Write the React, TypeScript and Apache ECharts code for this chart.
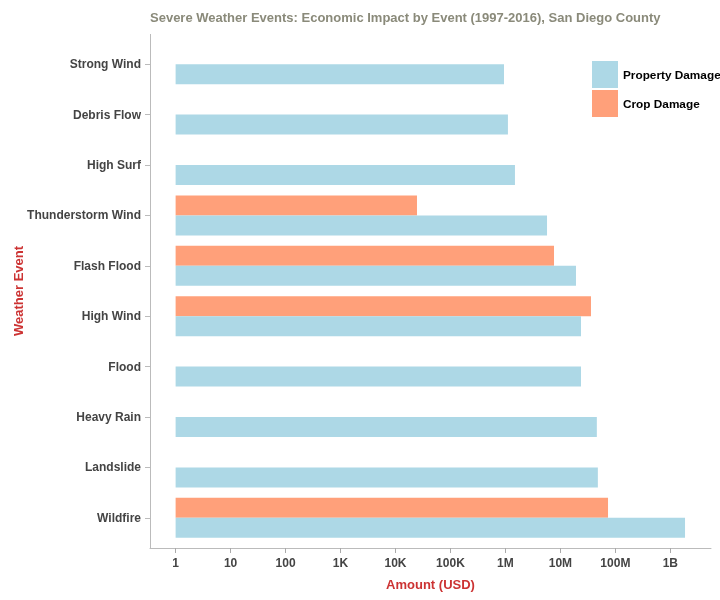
import React, { useEffect, useRef } from "react";
import * as echarts from "echarts";

const categories = [
  "Strong Wind",
  "Debris Flow",
  "High Surf",
  "Thunderstorm Wind",
  "Flash Flood",
  "High Wind",
  "Flood",
  "Heavy Rain",
  "Landslide",
  "Wildfire",
];
const propertyDamage = [942000, 1110000, 1490000, 5710000, 19200000, 23700000, 23700000, 46000000, 48000000, 1850000000];
const cropDamage = [null, null, null, 24600, 7650000, 36000000, null, null, null, 73500000];
const tickValues = [1, 10, 100, 1000, 10000, 100000, 1000000, 10000000, 100000000, 1000000000];
const tickLabels = ["1", "10", "100", "1K", "10K", "100K", "1M", "10M", "100M", "1B"];

const FONT = "'Liberation Sans', Arial, sans-serif";

export default function App() {
  const ref = useRef<HTMLDivElement>(null);
  useEffect(() => {
    if (!ref.current) return;
    const chart = echarts.init(ref.current, undefined, { renderer: "svg" });
    chart.setOption({
      animation: false,
      textStyle: { fontFamily: FONT },
      title: {
        text: "Severe Weather Events: Economic Impact by Event (1997-2016), San Diego County",
        left: 145,
        top: 6,
        textStyle: { fontFamily: FONT, fontSize: 13, fontWeight: "bold", color: "#8a8a7a" },
      },
      legend: {
        data: ["Property Damage", "Crop Damage"],
        orient: "vertical",
        left: 587,
        top: 56,
        itemWidth: 26,
        itemHeight: 27,
        itemGap: 2,
        icon: "rect",
        textStyle: { fontFamily: FONT, fontSize: 11.8, fontWeight: "bold", color: "#000" },
      },
      grid: { left: 150, right: 9, top: 39, bottom: 57, containLabel: false, outerBoundsMode: "none" },
      xAxis: {
        type: "log",
        logBase: 10,
        min: 0.342,
        max: 5.49e9,
        offset: 5,
        name: "Amount (USD)",
        nameLocation: "middle",
        nameGap: 30,
        nameMoveOverlap: false,
        nameTextStyle: { fontFamily: FONT, fontSize: 13, fontWeight: "bold", color: "#cc3333" },
        axisLine: { show: true, lineStyle: { color: "#bbbbbb", width: 1 } },
        axisTick: { show: true, length: 5, lineStyle: { color: "#aaaaaa", width: 1 }, customValues: tickValues },
        splitLine: { show: false },
        axisLabel: {
          customValues: tickValues,
          margin: 9,
          fontFamily: FONT,
          fontSize: 12,
          fontWeight: "bold",
          color: "#444444",
          formatter: (v: number) => {
            const e = Math.round(Math.log10(v));
            return tickLabels[e] ?? "";
          },
        },
      },
      yAxis: {
        type: "category",
        data: categories,
        inverse: true,
        name: "Weather Event",
        nameLocation: "middle",
        nameGap: 125,
        nameRotate: 90,
        nameMoveOverlap: false,
        nameTextStyle: { fontFamily: FONT, fontSize: 13, fontWeight: "bold", color: "#cc3333" },
        axisLine: { show: false },
        axisTick: { show: true, alignWithLabel: true, length: 5, lineStyle: { color: "#bbbbbb" } },
        axisLabel: { margin: 9, fontFamily: FONT, fontSize: 12, fontWeight: "bold", color: "#444444" },
      },
      graphic: [
        {
          type: "line",
          shape: { x1: 150.5, y1: 34, x2: 150.5, y2: 548 },
          style: { stroke: "#bbbbbb", lineWidth: 1 },
          silent: true,
        },
      ],
      series: [
        {
          name: "Crop Damage",
          type: "bar",
          data: cropDamage,
          barWidth: 20,
          barGap: "0%",
          itemStyle: { color: "#ffa07a" },
        },
        {
          name: "Property Damage",
          type: "bar",
          data: propertyDamage,
          barWidth: 20,
          barGap: "0%",
          itemStyle: { color: "#add8e6" },
        },
      ],
    });
    return () => chart.dispose();
  }, []);
  return (
    <div
      ref={ref}
      style={{ position: "fixed", left: 0, top: 0, width: 720, height: 600 }}
    />
  );
}
